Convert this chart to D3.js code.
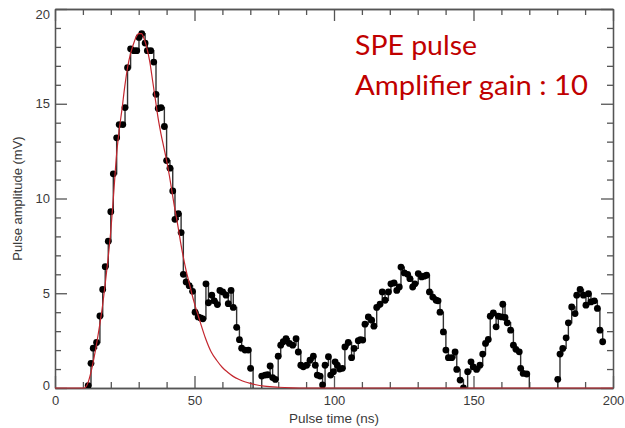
<!DOCTYPE html>
<html>
<head>
<meta charset="utf-8">
<script src="https://cdn.jsdelivr.net/npm/d3@7"></script>
<style>
  body { margin: 0; background: #fff; }
  svg { display: block; }
</style>
</head>
<body>
<div id="chart"></div>
<script>
// measured pulse (time in ns, amplitude in mV)
var pulseTime = [11.0, 11.9, 12.9, 13.7, 14.9, 16.1, 17.1, 18.0, 19.1, 20.0,
  20.9, 22.1, 23.0, 24.3, 25.1, 26.0, 27.1, 28.3, 29.3, 30.1,
  31.1, 32.3, 33.1, 34.3, 35.4, 36.2, 37.0, 38.0, 39.2, 40.0,
  41.2, 42.2, 43.0, 44.2, 45.2, 46.0, 47.0, 48.1, 49.3, 50.2,
  51.3, 52.2, 53.0, 54.1, 55.0, 56.2, 57.1, 58.2, 59.1, 60.1,
  61.3, 62.1, 63.1, 63.9, 65.1, 66.1, 66.9, 68.1, 69.3, 70.1,
  71.0, 72.2, 73.4, 74.1, 75.3, 76.2, 77.1, 78.0, 79.0, 80.0,
  80.9, 81.8, 82.8, 84.0, 85.2, 86.4, 87.2, 88.1, 89.0, 90.2,
  91.4, 92.6, 93.3, 94.0, 95.0, 95.9, 96.8, 98.0, 98.8, 99.8,
  100.4, 101.2, 102.0, 103.0, 103.9, 105.1, 106.3, 107.2, 108.7, 109.5,
  110.3, 111.1, 112.3, 113.5, 114.3, 115.3, 116.5, 117.3, 118.3, 119.5,
  120.4, 121.5, 122.5, 123.4, 124.0, 125.2, 126.4, 127.2, 128.2, 129.0,
  130.2, 131.4, 132.3, 133.2, 134.2, 135.4, 136.6, 137.3, 138.0, 139.2,
  140.1, 141.0, 142.2, 143.4, 144.0, 145.2, 146.4, 147.9, 149.1, 149.9,
  151.1, 152.3, 153.3, 154.3, 155.3, 156.0, 157.1, 158.1, 158.9, 160.1,
  160.5, 161.3, 162.1, 163.3, 164.3, 165.2, 166.4, 166.9, 167.8, 169.1,
  170.0, 179.4, 180.2, 181.0, 182.0, 183.2, 184.0, 185.2, 186.4, 187.0,
  188.2, 189.4, 190.3, 191.2, 192.1, 193.3, 194.4, 195.3, 196.3];
var pulseAmp = [-0.5, 0.12, 1.3, 2.1, 2.4, 3.8, 5.2, 6.4, 7.75, 9.3,
  11.3, 13.2, 13.9, 13.9, 14.8, 16.9, 17.9, 17.8, 17.8, 18.5,
  18.7, 18.2, 17.8, 17.8, 17.2, 15.5, 14.75, 14.8, 13.8, 12.0,
  11.6, 10.4, 8.9, 9.2, 8.2, 6.0, 5.6, 5.4, 5.1, 4.0,
  3.75, 3.7, 3.65, 5.5, 4.5, 4.9, 4.6, 4.4, 5.15, 5.07,
  4.9, 4.45, 5.15, 4.25, 3.2, 2.55, 2.1, 2.0, 2.0, 1.04,
  -0.5, -0.5, -0.5, 0.63, 0.68, 0.7, 1.16, 0.55, 0.45, 1.68,
  2.26, 2.44, 2.6, 2.35, 2.26, 2.6, 1.9, 1.2, 1.12, 1.2,
  1.47, 1.68, 1.2, 0.68, 0.63, 0.16, 1.2, 1.65, 0.68, 0.86,
  1.38, 1.2, 1.0, 1.04, 2.17, 2.4, 1.6, 2.09, 2.5, 2.55,
  2.53, 3.37, 3.75, 3.58, 3.26, 4.25, 4.42, 5.07, 4.63, 5.07,
  5.5, 5.54, 5.15, 5.33, 6.38, 6.07, 6.0, 5.77, 5.33, 5.5,
  6.04, 5.86, 5.9, 5.95, 5.07, 4.8, 4.63, 4.6, 4.0, 2.96,
  2.0, 1.6, 1.6, 1.9, 0.98, 0.42, 0.0, 0.86, 1.38, 1.12,
  0.98, 1.2, 1.79, 2.35, 2.56, 3.79, 3.96, 3.23, 3.79, 3.75,
  4.42, 3.72, 3.44, 3.05, 2.26, 2.04, 1.91, 1.04, 0.77, 0.74,
  -0.5, -0.5, 0.46, 1.79, 2.09, 2.65, 3.44, 4.28, 3.93, 4.9,
  5.2, 4.9, 4.37, 4.98, 4.54, 4.6, 4.2, 3.05, 2.44];

// fitted SPE shape
var fitTime = [0, 10, 10.5, 11, 12, 13, 14, 15, 16, 17, 18, 19, 20, 21, 22, 23, 24, 25,
  26, 27, 28, 29, 30, 31, 32, 33, 34, 35, 36, 37, 38, 39, 40, 41, 42, 43, 44,
  45, 46, 47, 48, 49, 50, 52, 54, 56, 58, 60, 62, 64, 66, 68, 70, 72, 75, 80,
  85, 90, 95, 200];
var fitAmp = [0, 0, 0, 0.05, 0.35, 0.9, 1.6, 2.4, 3.3, 4.3, 5.5, 6.8, 8.3, 10.2, 12.2, 13.6, 14.7, 15.9,
  16.9, 17.6, 18.1, 18.5, 18.7, 18.7, 18.4, 17.9, 17.2, 16.2, 15.2, 14.2, 13.4, 12.7, 12.0, 11.2, 10.3, 9.4, 8.6,
  7.7, 6.9, 6.2, 5.6, 5.0, 4.45, 3.5, 2.6, 1.9, 1.45, 1.08, 0.82, 0.6, 0.45, 0.33, 0.24, 0.17, 0.1, 0.04,
  0.01, 0, 0, 0];

var xTicks = [0, 50, 100, 150, 200];
var yTicks = [0, 5, 10, 15, 20];
var notes = ["SPE pulse", "Amplifier gain : 10"];

var W = 625, H = 428;
var margin = {left: 55, right: 12, top: 9, bottom: 40};
var axisColor = "#555";
var labelColor = "#3a3a3a";
var labelFont = "'Liberation Sans', Arial, sans-serif";
var fitColor = "#c4262e";

var svg = d3.select("#chart").append("svg")
  .attr("width", W).attr("height", H);

var x = d3.scaleLinear().domain([0, 200]).range([margin.left, W - margin.right]);
var y = d3.scaleLinear().domain([0, 20]).range([H - margin.bottom, margin.top]);

svg.append("defs").append("clipPath").attr("id", "plot")
  .append("rect")
  .attr("x", x(0)).attr("y", y(20))
  .attr("width", x(200) - x(0)).attr("height", y(0) - y(20));

var minorX = d3.range(0, 201, 10).filter(function (d) { return d % 50 != 0; });
var minorY = d3.range(0, 21, 1).filter(function (d) { return d % 5 != 0; });

function styleAxis(g) {
  g.selectAll("path, line").attr("stroke", axisColor).attr("stroke-width", 1.3);
  g.selectAll("text").attr("fill", labelColor)
    .style("font-family", labelFont)
    .style("font-size", "13px");
}

// bottom / top
svg.append("g").attr("transform", "translate(0," + y(0) + ")")
  .call(d3.axisBottom(x).tickValues(xTicks).tickSizeInner(-12).tickSizeOuter(0).tickPadding(8))
  .call(styleAxis);
svg.append("g").attr("transform", "translate(0," + y(0) + ")")
  .call(d3.axisBottom(x).tickValues(minorX).tickSizeInner(-6).tickSizeOuter(0).tickFormat(""))
  .call(styleAxis);
svg.append("g").attr("transform", "translate(0," + y(20) + ")")
  .call(d3.axisTop(x).tickValues(xTicks).tickSizeInner(-12).tickSizeOuter(0).tickFormat(""))
  .call(styleAxis);
svg.append("g").attr("transform", "translate(0," + y(20) + ")")
  .call(d3.axisTop(x).tickValues(minorX).tickSizeInner(-6).tickSizeOuter(0).tickFormat(""))
  .call(styleAxis);

// left / right
var yAxisG = svg.append("g").attr("transform", "translate(" + x(0) + ",0)")
  .call(d3.axisLeft(y).tickValues(yTicks).tickSizeInner(-12).tickSizeOuter(0).tickPadding(5))
  .call(styleAxis);
// end labels sit a little inside the frame, as in the original
yAxisG.selectAll(".tick text")
  .attr("dy", function (d) { return d == 20 ? "0.75em" : d == 0 ? "0.15em" : "0.32em"; });
svg.append("g").attr("transform", "translate(" + x(0) + ",0)")
  .call(d3.axisLeft(y).tickValues(minorY).tickSizeInner(-6).tickSizeOuter(0).tickFormat(""))
  .call(styleAxis);
svg.append("g").attr("transform", "translate(" + x(200) + ",0)")
  .call(d3.axisRight(y).tickValues(yTicks).tickSizeInner(-12).tickSizeOuter(0).tickFormat(""))
  .call(styleAxis);
svg.append("g").attr("transform", "translate(" + x(200) + ",0)")
  .call(d3.axisRight(y).tickValues(minorY).tickSizeInner(-6).tickSizeOuter(0).tickFormat(""))
  .call(styleAxis);

// axis titles
svg.append("text")
  .attr("x", (x(0) + x(200)) / 2).attr("y", 423)
  .attr("text-anchor", "middle")
  .attr("fill", labelColor)
  .style("font-family", labelFont).style("font-size", "13.5px")
  .text("Pulse time (ns)");
svg.append("text")
  .attr("transform", "translate(22," + y(10) + ") rotate(-90)")
  .attr("text-anchor", "middle")
  .attr("fill", labelColor)
  .style("font-family", labelFont).style("font-size", "13px")
  .text("Pulse amplitude (mV)");

// data
var pts = pulseTime.map(function (t, i) { return {t: t, a: pulseAmp[i]}; });
var plot = svg.append("g").attr("clip-path", "url(#plot)");

var line = d3.line()
  .x(function (d) { return x(d.t); })
  .y(function (d) { return y(d.a); })
  .curve(d3.curveStepAfter);

plot.append("path")
  .datum(pts)
  .attr("fill", "none")
  .attr("stroke", "#333")
  .attr("stroke-width", 1.4)
  .attr("d", line);

plot.selectAll("circle")
  .data(pts)
  .enter()
  .append("circle")
  .attr("cx", function (d) { return x(d.t); })
  .attr("cy", function (d) { return y(d.a); })
  .attr("r", 3.4)
  .attr("fill", "#000");

var fit = fitTime.map(function (t, i) { return {t: t, a: fitAmp[i]}; });
svg.append("path")
  .datum(fit)
  .attr("fill", "none")
  .attr("stroke", fitColor)
  .attr("stroke-width", 1.2)
  .attr("d", d3.line()
    .x(function (d) { return x(d.t); })
    .y(function (d) { return y(d.a); })
    .curve(d3.curveMonotoneX));

// annotation
svg.selectAll(".note")
  .data(notes)
  .enter()
  .append("text")
  .attr("class", "note")
  .attr("x", 355)
  .attr("y", function (d, i) { return 55 + i * 40; })
  .attr("fill", "#c00000")
  .style("font-family", "Lato, sans-serif")
  .style("font-size", "27px")
  .attr("textLength", function (d, i) { return i == 0 ? 122 : 233; })
  .attr("lengthAdjust", "spacingAndGlyphs")
  .text(function (d) { return d; });
</script>
</body>
</html>
